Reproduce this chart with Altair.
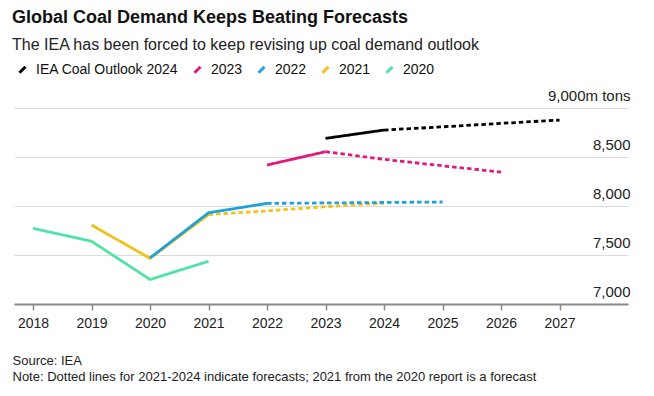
import altair as alt
import pandas as pd

series_order = ["IEA Coal Outlook 2024", "2023", "2022", "2021", "2020"]
colors = ["#000000", "#e0197d", "#1ea1dc", "#f2c21b", "#4fe3a7"]

# actual (solid) segments
black_actual_years = [2023, 2024]
black_actual = [8690, 8775]
pink_actual_years = [2022, 2023]
pink_actual = [8418, 8554]
blue_actual_years = [2020, 2021, 2022]
blue_actual = [7470, 7931, 8027]
yellow_actual_years = [2019, 2020, 2021]
yellow_actual = [7806, 7466, 7912]
green_actual_years = [2018, 2019, 2020, 2021]
green_actual = [7772, 7640, 7250, 7436]

# forecast (dotted) segments
black_fc_years = [2024, 2025, 2026, 2027]
black_fc = [8775, 8808, 8843, 8877]
pink_fc_years = [2023, 2024, 2025, 2026]
pink_fc = [8554, 8476, 8410, 8346]
blue_fc_years = [2022, 2023, 2024, 2025]
blue_fc = [8027, 8031, 8036, 8041]
yellow_fc_years = [2021, 2022, 2023, 2024]
yellow_fc = [7912, 7950, 7993, 8030]

x_ticks = [2018, 2019, 2020, 2021, 2022, 2023, 2024, 2025, 2026, 2027]
y_ticks = [7000, 7500, 8000, 8500, 9000]

source_note = ["Source: IEA",
               "Note: Dotted lines for 2021-2024 indicate forecasts; 2021 from the 2020 report is a forecast"]

rows = []
def add(name, seg, years, vals):
    for y, v in zip(years, vals):
        rows.append({"series": name, "seg": seg, "key": name + "-" + seg, "year": y, "value": v})

# drawing order: green first, black last
add("2020", "actual", green_actual_years, green_actual)
add("2021", "actual", yellow_actual_years, yellow_actual)
add("2021", "forecast", yellow_fc_years, yellow_fc)
add("2022", "actual", blue_actual_years, blue_actual)
add("2022", "forecast", blue_fc_years, blue_fc)
add("2023", "actual", pink_actual_years, pink_actual)
add("2023", "forecast", pink_fc_years, pink_fc)
add("IEA Coal Outlook 2024", "actual", black_actual_years, black_actual)
add("IEA Coal Outlook 2024", "forecast", black_fc_years, black_fc)
df = pd.DataFrame(rows)

FONT = "Liberation Sans"

chart = alt.Chart(df).mark_line(strokeWidth=2.8, strokeCap="butt").encode(
    x=alt.X("year:Q",
            scale=alt.Scale(domain=[2017.675, 2028.17], nice=False, zero=False),
            axis=alt.Axis(values=x_ticks, format="d", grid=False,
                          domainColor="#8a8a8a", domainWidth=2,
                          tickColor="#8a8a8a", tickWidth=1.5, tickSize=6,
                          labelFontSize=14, labelColor="#222", labelFont=FONT,
                          labelPadding=6,
                          title=source_note, titleFont=FONT, titleFontSize=13,
                          titleFontWeight="normal", titleColor="#222",
                          titleAnchor="start", titleAlign="left", titleBaseline="top",
                          titleX=-2, titleY=50, titleLineHeight=16)),
    y=alt.Y("value:Q",
            scale=alt.Scale(domain=[7000, 9000], nice=False, zero=False),
            axis=alt.Axis(orient="right", values=y_ticks, domain=False, ticks=False,
                          grid=True, gridColor="#dddddd", gridWidth=1,
                          labelAlign="right", labelPadding=2, labelBaseline="alphabetic",
                          labelOffset=-8, labelFontSize=15, labelColor="#222", labelFont=FONT,
                          labelExpr="datum.value == 9000 ? '9,000m tons' : datum.label",
                          title=None)),
    color=alt.Color("series:N",
                    scale=alt.Scale(domain=series_order, range=colors),
                    legend=alt.Legend(orient="none", legendX=1, legendY=-46,
                                      direction="horizontal", title=None,
                                      symbolType="M-0.5,0.5L0.5,-0.5",
                                      symbolSize=144, symbolStrokeWidth=3,
                                      labelFontSize=14, labelFont=FONT, labelColor="#111",
                                      labelOffset=6, columnPadding=9)),
    strokeDash=alt.StrokeDash("seg:N",
                              scale=alt.Scale(domain=["actual", "forecast"],
                                              range=[[1, 0], [4.5, 3]]),
                              legend=None),
    detail="key:N",
    order="year:Q",
).properties(
    width=614,
    height=196,
    padding={"left": 4, "top": 1, "right": 2, "bottom": 2},
    title=alt.TitleParams(
        text="Global Coal Demand Keeps Beating Forecasts",
        subtitle="The IEA has been forced to keep revising up coal demand outlook",
        anchor="start", font=FONT, fontSize=18, fontWeight="bold", color="#111",
        subtitleFont=FONT, subtitleFontSize=16, subtitleColor="#222",
        subtitlePadding=10, offset=9),
).configure_view(stroke=None)

chart.save("out.html", embed_options={"renderer": "svg", "actions": False})
